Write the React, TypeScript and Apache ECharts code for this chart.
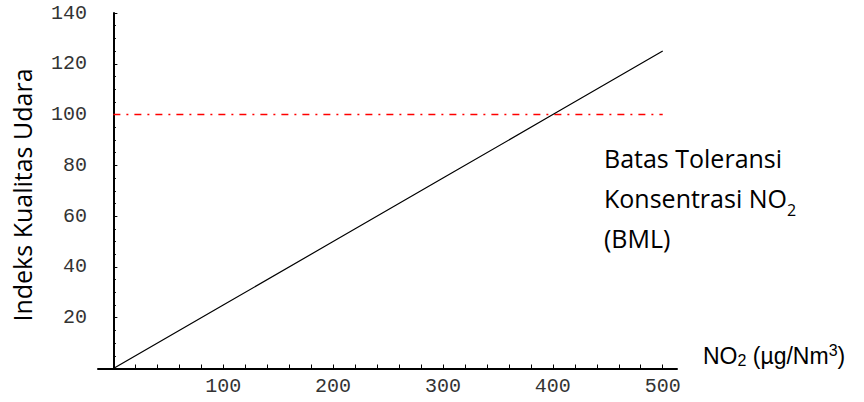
import { useEffect, useRef } from "react";
import * as echarts from "echarts";

// NO2 concentration (µg/Nm³) against the air quality index (ISPU)
const no2Values = [0, 100, 200, 300, 400, 500];
const indexValues = [0, 25, 50, 75, 100, 125];

// BML tolerance limit, drawn across the concentration range
const bmlRange = [0, 500];
const bmlIndex = 100;

// tick and label positions
const xTickValues = [20, 40, 60, 80, 100, 120, 140, 160, 180, 200, 220, 240, 260, 280, 300, 320, 340, 360, 380, 400, 420, 440, 460, 480, 500];
const xLabelValues = [100, 200, 300, 400, 500];
const yLabelValues = [20, 40, 60, 80, 100, 120, 140];

const tickFont = "'Liberation Mono', 'DejaVu Sans Mono', monospace";
const textFont = "'Open Sans', 'Noto Sans', sans-serif";
const sansFont = "'Liberation Sans', Arial, sans-serif";

export default function App() {
  const ref = useRef<HTMLDivElement>(null);

  useEffect(() => {
    if (!ref.current) return;
    const chart = echarts.init(ref.current, null, { renderer: "svg" });

    const indexLine = no2Values.map((x, i) => [x, indexValues[i]]);
    const bmlLine = bmlRange.map((x) => [x, bmlIndex]);

    chart.setOption({
      animation: false,
      backgroundColor: "#ffffff",
      grid: { left: 98, right: 187, top: 13, bottom: 33.5 },
      xAxis: {
        type: "value",
        min: -14,
        max: 513,
        splitLine: { show: false },
        axisLine: { show: true, onZero: false, lineStyle: { color: "#000", width: 2 } },
        axisTick: {
          show: true,
          inside: true,
          length: 4,
          customValues: xTickValues,
          lineStyle: { color: "#000", width: 1 },
        },
        axisLabel: {
          customValues: xLabelValues,
          margin: 8,
          fontFamily: tickFont,
          fontSize: 20,
          color: "#333",
        },
        name: "NO{sub|2} (µg/Nm{sup|3})",
        nameLocation: "end",
        nameGap: 26,
        nameTextStyle: {
          fontFamily: sansFont,
          fontSize: 23,
          color: "#000",
          align: "left",
          verticalAlign: "bottom",
          lineHeight: 26,
          rich: {
            sub: {
              fontFamily: sansFont,
              fontSize: 16,
              color: "#000",
              lineHeight: 21,
              verticalAlign: "bottom",
            },
            sup: {
              fontFamily: sansFont,
              fontSize: 16,
              color: "#000",
              lineHeight: 11,
              verticalAlign: "top",
            },
          },
        },
      },
      yAxis: {
        type: "value",
        min: 0,
        max: 140,
        interval: 20,
        splitLine: { show: false },
        axisLine: { show: true, onZero: true, lineStyle: { color: "#000", width: 2 } },
        axisTick: { show: true, inside: true, length: 4, lineStyle: { color: "#000", width: 1 } },
        minorTick: { show: true, splitNumber: 4, length: 2.5, lineStyle: { color: "#000", width: 1 } },
        axisLabel: {
          customValues: yLabelValues,
          margin: 11,
          fontFamily: tickFont,
          fontSize: 20,
          color: "#333",
        },
      },
      series: [
        {
          name: "BML",
          type: "line",
          data: bmlLine,
          symbol: "none",
          silent: true,
          lineStyle: { color: "#ff0000", width: 1.5, type: [7, 6, 2, 6] },
        },
        {
          name: "ISPU",
          type: "line",
          data: indexLine,
          symbol: "none",
          silent: true,
          lineStyle: { color: "#000", width: 1.2 },
        },
      ],
      graphic: [
        {
          type: "text",
          x: 22,
          y: 195,
          rotation: Math.PI / 2,
          style: {
            text: "Indeks Kualitas Udara",
            fontFamily: textFont,
            fontSize: 25,
            fill: "#000",
            align: "center",
            verticalAlign: "middle",
          },
        },
        {
          type: "text",
          x: 604,
          y: 138,
          style: {
            text: "Batas Toleransi\nKonsentrasi NO{sub|2}\n(BML)",
            fontFamily: textFont,
            fontSize: 25,
            lineHeight: 40,
            fill: "#000",
            align: "left",
            verticalAlign: "top",
            rich: {
              sub: {
                fontFamily: textFont,
                fontSize: 16,
                lineHeight: 28,
                verticalAlign: "bottom",
                fill: "#000",
              },
            },
          },
        },
      ],
    });

    return () => chart.dispose();
  }, []);

  return (
    <div
      ref={ref}
      style={{ position: "fixed", left: 0, top: 0, width: 864, height: 402 }}
    />
  );
}
